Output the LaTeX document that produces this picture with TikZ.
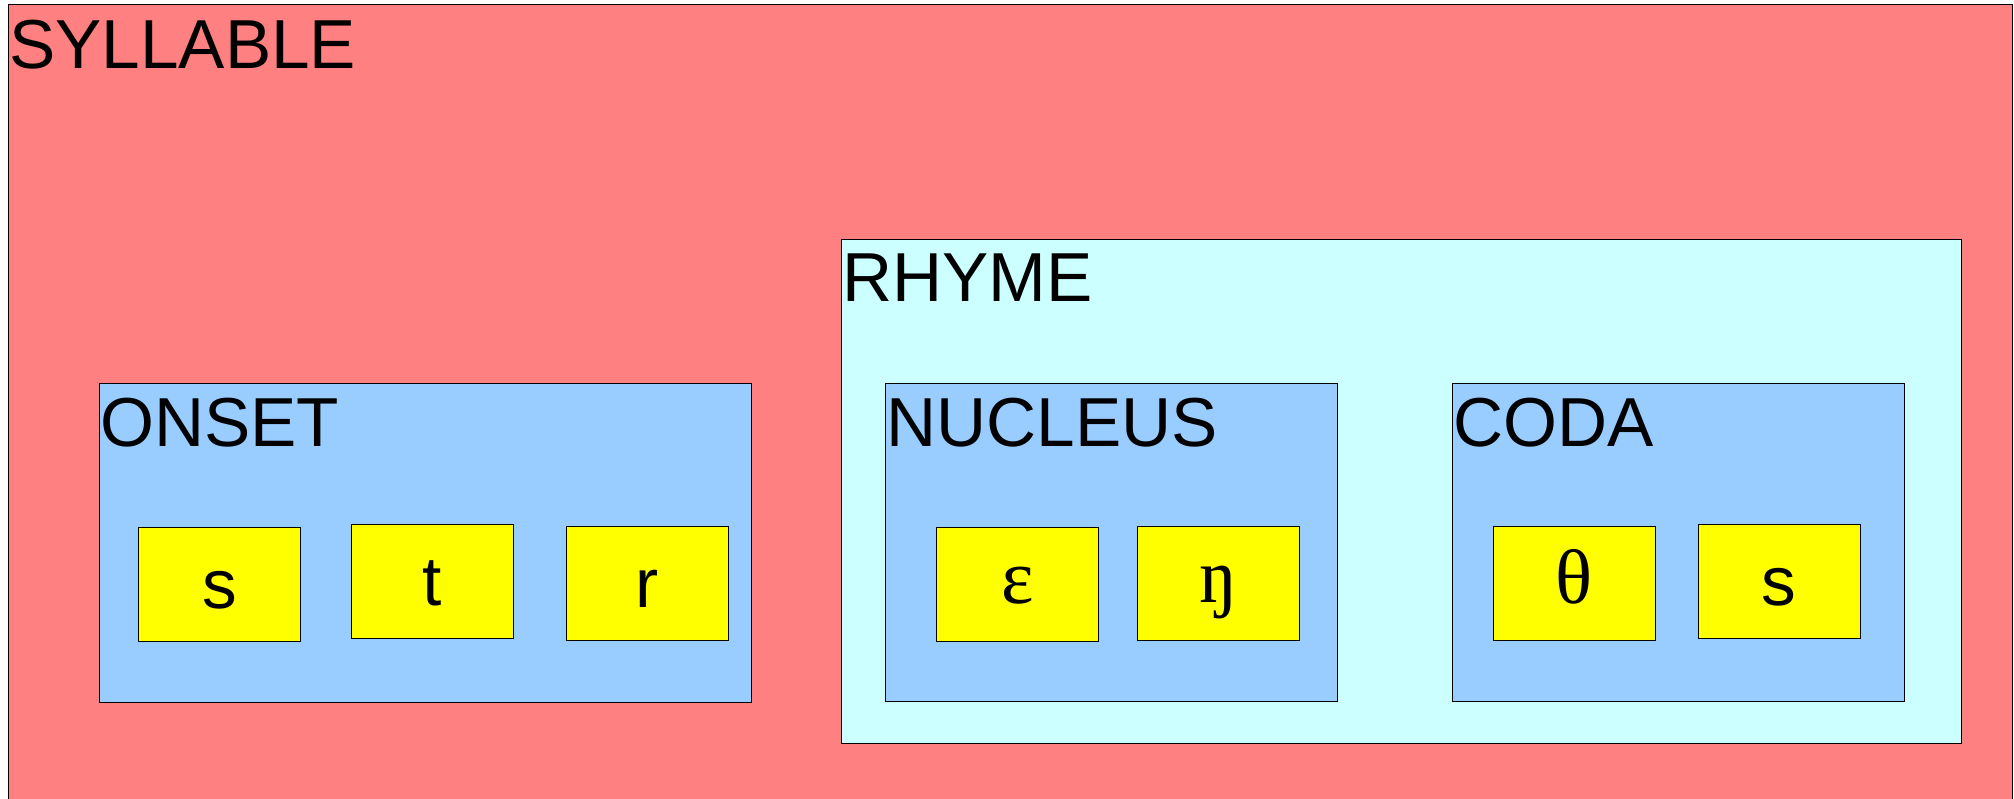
\documentclass[tikz,border=0pt]{standalone}
\usepackage{fontspec}
\setmainfont{Liberation Sans}
\newfontfamily\ipafont{Liberation Serif}
\usetikzlibrary{fit,calc}
\definecolor{sylcol}{HTML}{FF8080}
\definecolor{rhymecol}{HTML}{CCFFFF}
\definecolor{partcol}{HTML}{99CCFF}
\definecolor{phcol}{HTML}{FFFF00}
\tikzset{
  frame/.style={draw=black, line width=0.75pt, inner sep=0pt, outer sep=0pt},
  lbl/.style={inner sep=0pt, anchor=base west, font=\fontsize{52}{60}\selectfont},
  ph/.style={inner sep=0pt, anchor=base, font=\fontsize{52}{60}\selectfont},
  ipa/.style={inner sep=0pt, anchor=base, font=\ipafont\fontsize{58}{64}\selectfont}
}
\begin{document}
\begin{tikzpicture}[x=0.75pt, y=-0.75pt]
\clip (0,0) rectangle (2014,799);
\fill[white] (0,0) rectangle (2014,799);
% containers
\node[frame, fill=sylcol, fit={(8,5) (2012.5,830)}] (syl) {};
\node[lbl] (syllbl) at ($(syl.north west)+(1,63.3)$) {SYLLABLE};
\node[frame, fill=rhymecol, fit={(841,239) (1961.5,743.5)}] (rhyme) {};
\node[lbl] (rhymelbl) at ($(rhyme.north west)+(1,62.7)$) {RHYME};
\node[frame, fill=partcol, fit={(99,383.5) (751.5,702)}] (onset) {};
\node[lbl] (onsetlbl) at ($(onset.north west)+(1,63.2)$) {ONSET};
\node[frame, fill=partcol, fit={(885,383) (1337,701.5)}] (nucleus) {};
\node[lbl] (nucleuslbl) at ($(nucleus.north west)+(1,63.2)$) {NUCLEUS};
\node[frame, fill=partcol, fit={(1452.5,383) (1904.5,701.5)}] (coda) {};
\node[lbl] (codalbl) at ($(coda.north west)+(1,63.2)$) {CODA};
% phoneme boxes
\node[frame, fill=phcol, fit={(138.5,527) (300.5,641)}] (s1) {};
\node[ph] (s1t) at ($(s1.center)+(0,24)$) {s};
\node[frame, fill=phcol, fit={(351,524) (513,638.5)}] (t) {};
\node[ph] (tt) at ($(t.center)+(0,24.5)$) {t};
\node[frame, fill=phcol, fit={(566.5,526.5) (728.5,640)}] (r) {};
\node[ph] (rt) at ($(r.center)+(0,24)$) {r};
\node[frame, fill=phcol, fit={(936.5,527) (1098.5,641)}] (eps) {};
\node[ipa] (epst) at ($(eps.center)+(0,19.5)$) {ɛ};
\node[frame, fill=phcol, fit={(1137.5,526) (1299.5,640.5)}] (eng) {};
\node[ipa] (engt) at ($(eng.center)+(0,19)$) {ŋ};
\node[frame, fill=phcol, fit={(1493,526) (1655.5,640.5)}] (theta) {};
\node[ipa] (thetat) at ($(theta.center)+(0,20)$) {θ};
\node[frame, fill=phcol, fit={(1698,524) (1860,638.5)}] (s2) {};
\node[ph] (s2t) at ($(s2.center)+(0,24.5)$) {s};
\end{tikzpicture}
\end{document}
